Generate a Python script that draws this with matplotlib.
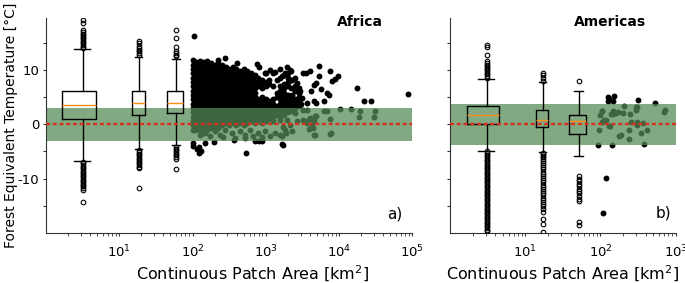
import numpy as np
import matplotlib
matplotlib.use("Agg")
import matplotlib.pyplot as plt

plt.rcParams['font.family'] = ['DejaVu Sans']
plt.rcParams['axes.unicode_minus'] = False

# ---- Africa: box plots of small patch classes ----
af_med = [3.5, 3.9, 4.0]
af_q1 = [1.0, 1.7, 2.0]
af_q3 = [6.2, 6.05, 6.1]
af_lo = [-6.7, -4.6, -3.9]
af_hi = [13.8, 12.4, 12.1]
af_fliers = [
    [14.0, 14.3, 14.6, 14.9, 15.2, 15.5, 15.8, 16.1, 16.4, 16.7, 17.0, 17.3, 18.6, 19.2,
     -6.9, -7.2, -7.5, -7.8, -8.1, -8.4, -8.7, -9.0, -9.3, -9.6, -9.9, -10.2, -10.5,
     -10.8, -11.1, -11.4, -11.7, -12.0, -14.3],
    [12.8, 13.1, 13.4, 13.7, 14.0, 14.4, 14.9, 15.4,
     -4.8, -5.1, -5.4, -5.7, -6.0, -6.3, -6.6, -6.9, -7.2, -7.5, -7.8, -8.1, -11.7],
    [12.5, 12.8, 13.1, 13.4, 14.3, 15.9, 17.4,
     -4.2, -4.5, -4.8, -5.1, -5.4, -5.7, -6.0, -6.3, -8.2],
]

# ---- Americas: box plots ----
am_med = [1.7, 0.8, 0.6]
am_q1 = [0.0, -0.55, -1.75]
am_q3 = [3.3, 2.6, 1.8]
am_lo = [-4.9, -5.1, -5.9]
am_hi = [8.3, 7.8, 6.1]
am_fliers = [
    [8.6, 8.9, 9.2, 9.5, 9.8, 10.1, 10.4, 10.7, 11.0, 11.3, 11.6, 12.8, 14.2, 14.6,
     -5.0, -5.3, -5.6, -5.9, -6.2, -6.5, -6.8, -7.1, -7.4, -7.7, -8.0, -8.3, -8.6, -8.9,
     -9.2, -9.5, -9.8, -10.1, -10.4, -10.7, -11.0, -11.3, -11.6, -11.9, -12.2, -12.5,
     -12.8, -13.1, -13.4, -13.7, -14.0, -14.3, -14.6, -14.9, -15.2, -15.5, -15.8, -16.1,
     -16.4, -16.7, -17.0, -17.3, -17.6, -17.9, -18.2, -18.5, -18.8, -19.1, -19.4, -19.7],
    [8.0, 8.6, 9.1, 9.5,
     -5.2, -5.5, -5.8, -6.1, -6.4, -6.7, -7.1, -7.5, -7.9, -8.3, -8.7, -9.1, -9.5, -9.9,
     -10.3, -10.7, -11.1, -11.5, -11.9, -12.3, -12.7, -13.1, -13.5, -13.9, -14.3, -14.7,
     -15.1, -15.6, -16.1, -17.4, -18.3, -19.8],
    [7.9, -9.6, -10.1, -10.5, -10.9, -11.4, -11.9, -12.3, -12.7, -13.2, -13.7, -14.1,
     -18.0, -18.6],
]

# ---- Africa: individual large patches (dense cloud, one list per area column) ----
c100 = [-1.0, -0.2, 0.6, 1.4, 2.2, 3.0, 3.8, 4.6, 5.4, 6.2, 7.0, 7.8, 8.6, 9.4, 10.2, 11.0, 11.8]
c112 = [-0.6, 0.2, 1.0, 1.8, 2.6, 3.4, 4.2, 5.0, 5.8, 6.6, 7.4, 8.2, 9.0, 9.8, 10.6, 11.4]
c126 = [-1.1, -0.2, 0.6, 1.4, 2.2, 3.0, 3.8, 4.6, 5.4, 6.2, 7.0, 7.8, 8.6, 9.4, 10.2, 11.0, 11.7]
c141 = [-0.6, 0.2, 1.0, 1.8, 2.6, 3.4, 4.2, 5.0, 5.8, 6.6, 7.4, 8.2, 9.0, 9.8, 10.6, 11.4]
c158 = [-1.0, -0.2, 0.6, 1.4, 2.2, 3.0, 3.8, 4.6, 5.4, 6.2, 7.0, 7.8, 8.6, 9.4, 10.2, 11.0, 11.6]
c178 = [-0.6, 0.2, 1.0, 1.8, 2.6, 3.4, 4.2, 5.0, 5.8, 6.6, 7.4, 8.2, 9.0, 9.8, 10.6, 11.3]
c200 = [-0.9, -0.2, 0.6, 1.4, 2.2, 3.0, 3.8, 4.6, 5.4, 6.2, 7.0, 7.8, 8.6, 9.4, 10.2, 11.0]
c224 = [-0.6, 0.2, 1.0, 1.8, 2.6, 3.4, 4.2, 5.0, 5.8, 6.6, 7.4, 8.2, 9.0, 9.8, 10.6, 11.3]
c251 = [-0.2, 0.6, 1.4, 2.2, 3.0, 3.8, 4.6, 5.4, 6.2, 7.0, 7.8, 8.6, 9.4, 10.2, 11.0]
c282 = [0.2, 1.0, 1.8, 2.6, 3.4, 4.2, 5.0, 5.8, 6.6, 7.4, 8.2, 9.0, 9.8, 10.6]
c316 = [-0.2, 0.6, 1.4, 2.2, 3.0, 3.8, 4.6, 5.4, 6.2, 7.0, 7.8, 8.6, 9.4, 10.2]
c355 = [0.2, 1.0, 1.8, 2.6, 3.4, 4.2, 5.0, 5.8, 6.6, 7.4, 8.2, 9.0, 9.8, 10.6]
c398 = [-0.2, 0.6, 1.4, 2.2, 3.0, 3.8, 4.6, 5.4, 6.2, 7.0, 7.8, 8.6, 9.4, 10.2]
c447 = [0.2, 1.0, 1.8, 2.6, 3.4, 4.2, 5.0, 5.8, 6.6, 7.4, 8.2, 9.0, 9.8]
c501 = [-0.2, 0.6, 1.4, 2.2, 3.0, 3.8, 4.6, 5.4, 6.2, 7.0, 7.8, 8.6, 9.4, 10.2]
c562 = [0.2, 1.0, 1.8, 2.6, 3.4, 4.2, 5.0, 5.8, 6.6, 7.4, 8.2, 9.0, 9.8]
c631 = [0.6, 1.4, 2.2, 3.0, 3.8, 4.6, 5.4, 6.2, 7.0, 7.8, 8.6, 9.4]
c708 = [0.2, 1.0, 1.8, 2.6, 3.4, 4.2, 5.0, 5.8, 6.6, 7.4, 8.2, 9.0]
c794 = [0.6, 1.4, 2.2, 3.0, 3.8, 4.6, 7.0, 7.8, 8.6]
c891 = [0.2, 1.0, 1.8, 2.6, 3.4, 4.2, 5.0, 6.6, 7.4, 8.2]
c1000 = [0.6, 1.4, 2.2, 3.0, 3.8, 4.6, 7.0, 7.8, 9.4]
c1122 = [1.0, 1.8, 2.6, 3.4, 4.2, 7.4, 8.2]
c1259 = [0.6, 1.4, 2.2, 3.0, 3.8, 4.6, 7.0, 9.4]
c1413 = [1.8, 2.6, 3.4, 5.0, 5.8, 8.2]
c1585 = [1.4, 2.2, 3.0, 3.8, 4.6, 5.4, 6.2, 7.0, 8.6, 10.2]
c1778 = [1.8, 2.6, 3.4, 4.2, 5.0, 5.8, 6.6, 7.4, 9.0]
c1995 = [2.2, 3.0, 3.8, 4.6, 5.4, 7.0, 7.8, 8.6, 9.4]
c2239 = [2.6, 3.4, 4.2, 5.0, 6.6, 8.2, 9.8]
c2512 = [3.0, 3.8, 4.6, 6.2, 7.0, 8.6]
c2818 = [3.4, 4.2, 5.0, 5.8, 6.6]
af_cols = [(100, c100), (112, c112), (126, c126), (141, c141), (158, c158), (178, c178),
           (200, c200), (224, c224), (251, c251), (282, c282), (316, c316), (355, c355),
           (398, c398), (447, c447), (501, c501), (562, c562), (631, c631), (708, c708),
           (794, c794), (891, c891), (1000, c1000), (1122, c1122), (1259, c1259),
           (1413, c1413), (1585, c1585), (1778, c1778), (1995, c1995), (2239, c2239),
           (2512, c2512), (2818, c2818)]

# ---- Africa: scattered large patches ----
af_sx = [105, 226, 279, 410, 754, 800, 977, 1150, 1350, 1660, 1840, 2290, 1940, 2150,
         3270, 3970, 3500, 5250, 5400, 7600, 9800, 8900, 7900, 4500, 4900, 5600, 4200,
         7300, 6800, 17600, 21900, 27300, 87000, 6300, 4500, 4900, 3700, 3000, 2640, 2500,
         2900, 3100, 2300,
         100, 100, 115, 121, 124, 131, 150, 540, 1660, 720, 800, 890, 370, 195, 1700,
         10200, 14500, 19400, 31000, 18500, 30400, 7600, 4600, 4800, 4650, 7800, 4300,
         3650, 6150, 6800, 4700, 4050, 4470, 3650, 3220, 2650, 4470, 3830, 7600, 4600,
         1740, 2150, 1900, 1660, 1940, 2290, 2540, 3270, 3650, 1580, 1940,
         108, 126, 148, 174, 204, 240, 279, 344, 380, 447, 525, 612, 676, 794, 977,
         1150, 1350, 1580, 1840, 2290, 130, 260, 520, 900]
af_sy = [16.3, 11.9, 12.2, 11.3, 11.1, 10.5, 9.4, 10.0, 9.7, 8.8, 9.4, 8.2, 10.6, 10.0,
         9.4, 9.85, 9.5, 10.8, 8.8, 9.85, 8.8, 8.3, 7.9, 7.3, 7.6, 6.5, 6.1,
         5.45, 5.8, 6.7, 4.35, 4.35, 5.6, 4.2, 4.2, 3.9, 4.0, 3.8, 7.6, 6.7,
         6.1, 4.85, 5.45,
         -3.4, -4.0, -4.5, -4.15, -5.25, -4.95, -3.4, -5.25, -3.7, -3.1, -3.1, -3.1, -2.9,
         -3.3, -3.9,
         2.8, 2.8, 2.5, 2.5, 1.35, 1.35, 1.05, 0.86, 1.47, -2.0, -1.6, -0.4,
         0.25, 2.4, 2.4, 1.5, 1.2, 0.55, 0.55, 0.7, 0.55, -0.65, -0.85, -1.7, -2.0,
         -0.5, -0.05, -1.6, -2.1, 2.4, 2.4, 2.1, 2.7, 2.6, 0.86, 0.86,
         -1.0, -1.9, -1.6, -2.2, -1.3, -1.9, -1.0, -1.6, -2.5, -1.3, -1.9, -1.0, -2.2,
         -1.6, -1.3, -2.2, -1.6, -1.9, -1.0, -1.3, -1.8, -2.4, -2.6, -2.3]

# ---- Americas: individual large patches ----
am_x = [127, 131, 127, 153, 148, 316, 527,
        208, 310, 295, 724, 700, 104, 99, 148, 148, 160, 138, 248, 118, 112, 104, 134,
        256, 303, 303, 96, 243, 412, 188, 177, 240, 106, 130, 300, 170, 200, 370, 350,
        92, 143, 384, 120, 108]
am_y = [5.0, 4.6, 4.2, 5.2, 4.3, 4.5, 3.9,
        3.3, 3.2, 2.7, 2.7, 2.3, 2.5, 1.8, 2.5, 1.9, 2.1, 1.9, 1.9, 0.8, 0.8, 0.4, -0.4,
        0.4, 0.5, -0.2, -1.1, -1.1, -1.0, -1.9, -2.1, -2.7, 2.5, -0.4, 3.1, 2.2, 2.0, 0.2,
        -1.6,
        -3.75, -3.9, -3.6, -9.8, -16.3]

band_color = (0.337, 0.55, 0.337)
red = '#d7301f'


def stats(med, q1, q3, lo, hi, fl):
    out = []
    for i in range(len(med)):
        out.append(dict(med=med[i], q1=q1[i], q3=q3[i], whislo=lo[i], whishi=hi[i],
                        fliers=fl[i]))
    return out


def draw_boxes(ax, st, pos, widths):
    ax.bxp(st, positions=pos, widths=widths, manage_ticks=False, showfliers=True,
           boxprops=dict(color='black', lw=1.0),
           whiskerprops=dict(color='black', lw=1.0),
           capprops=dict(color='black', lw=1.0),
           medianprops=dict(color='#ff8c1a', lw=1.0),
           flierprops=dict(marker='o', mfc='none', mec='black', ms=3.3, mew=0.8),
           zorder=3)


def style(ax, xmax, xticks):
    ax.set_xscale('log')
    ax.set_xlim(1, xmax)
    ax.set_xticks(xticks)
    ax.set_ylim(-20, 19.5)
    ax.set_yticks([-15, -10, -5, 0, 5, 10, 15])
    ax.spines['top'].set_visible(False)
    ax.spines['right'].set_visible(False)
    for s in ['left', 'bottom']:
        ax.spines[s].set_linewidth(0.8)
        ax.spines[s].set_color('#333333')
    ax.tick_params(axis='both', which='major', length=2.5, width=0.8, labelsize=9.5,
                   color='#333333', pad=2.5)
    ax.tick_params(axis='x', which='major', pad=5)
    ax.tick_params(axis='x', which='minor', length=1.8, width=0.6, color='#333333')
    ax.set_xlabel('Continuous Patch Area [km$^2$]', fontsize=11.5)
    ax.axhline(0, color=red, lw=1.7, dashes=(1.7, 1.15), zorder=4)


fig = plt.figure(figsize=(6.85, 2.83), dpi=100)
ax1 = fig.add_axes([46 / 685, 50 / 283, 366.3 / 685, 214.7 / 283])
ax2 = fig.add_axes([450 / 685, 50 / 283, 225.7 / 685, 214.7 / 283])

# Africa
for xv, ys in af_cols:
    ax1.scatter([xv] * len(ys), ys, s=18, color='black', lw=0, zorder=1)
ax1.scatter(af_sx, af_sy, s=18, color='black', lw=0, zorder=1)
ax1.axhspan(-3, 3, color=band_color, alpha=0.74, lw=0, zorder=2)
draw_boxes(ax1, stats(af_med, af_q1, af_q3, af_lo, af_hi, af_fliers),
           [3.2, 18.5, 60], [3.1, 7.5, 30])
style(ax1, 1e5, [10, 1e2, 1e3, 1e4, 1e5])
ax1.set_yticklabels(['', '-10', '', '0', '', '10', ''])
ax1.set_ylabel('Forest Equivalent Temperature [°C]', fontsize=10)
ax1.yaxis.set_label_coords(-0.076, 0.5)
ax1.xaxis.set_label_coords(0.565, -0.145)
ax1.text(0.857, 1.015, 'Africa', transform=ax1.transAxes, ha='center', va='top',
         fontsize=10, fontweight='bold')
ax1.text(0.953, 0.09, 'a)', transform=ax1.transAxes, ha='center', va='center', fontsize=11)

# Americas
ax2.scatter(am_x, am_y, s=18, color='black', lw=0, zorder=1)
ax2.axhspan(-3.8, 3.8, color=band_color, alpha=0.74, lw=0, zorder=2)
draw_boxes(ax2, stats(am_med, am_q1, am_q3, am_lo, am_hi, am_fliers),
           [3.1, 17, 51.5], [2.85, 6.5, 26.7])
style(ax2, 1e3, [10, 1e2, 1e3])
ax2.tick_params(axis='y', labelleft=False)
ax2.xaxis.set_label_coords(0.5, -0.145)
ax2.text(0.709, 1.015, 'Americas', transform=ax2.transAxes, ha='center', va='top',
         fontsize=10, fontweight='bold')
ax2.text(0.944, 0.095, 'b)', transform=ax2.transAxes, ha='center', va='center', fontsize=11)

fig.savefig('out.png', dpi=100)
